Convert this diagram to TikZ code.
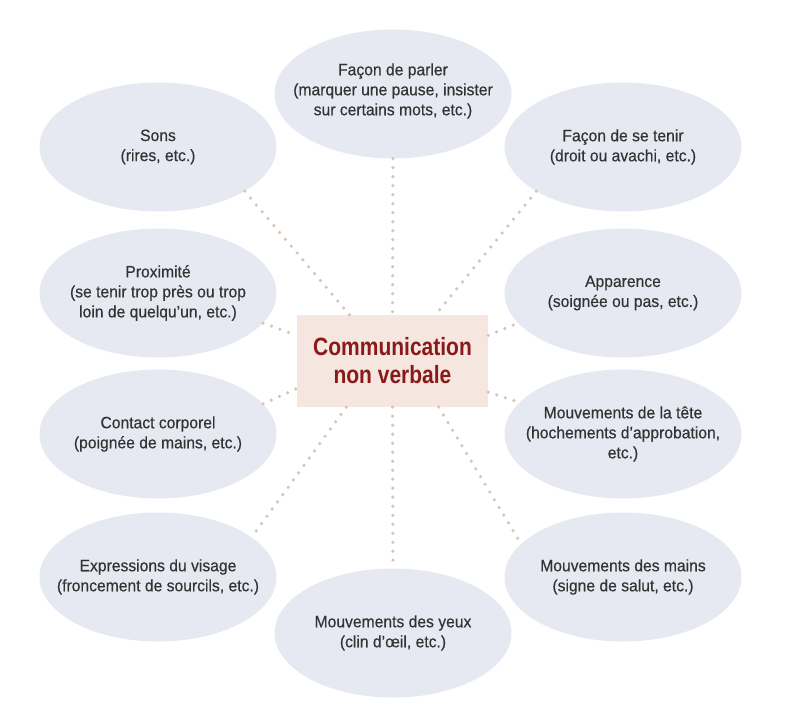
\documentclass[tikz,border=0pt]{standalone}
\usepackage{fontspec}
\setmainfont{Liberation Sans}
\newfontfamily\bubfont[FakeStretch=0.95, FakeBold=0.4]{Liberation Sans}
\newfontfamily\titfont[FakeStretch=0.84]{Liberation Sans}
\usetikzlibrary{shapes.geometric}
\definecolor{bubfill}{HTML}{E6E9F2}
\definecolor{boxfill}{HTML}{F5E6DF}
\definecolor{titred}{HTML}{8A1A1A}
\definecolor{bubtxt}{HTML}{333333}
\definecolor{dotcol}{HTML}{D8C4B4}
\tikzset{
  bubble/.style={ellipse, fill=bubfill, draw=none, minimum width=237pt, minimum height=129pt, inner sep=0pt},
  btext/.style={align=center, text=bubtxt, font=\bubfont\fontsize{16.5}{20}\selectfont, inner sep=0pt},
  centerbox/.style={rectangle, fill=boxfill, draw=none, minimum width=191pt, minimum height=92pt, inner sep=0pt},
  ttext/.style={align=center, text=titred, font=\titfont\bfseries\fontsize{25}{28}\selectfont, inner sep=0pt},
  dotline/.style={draw=dotcol, line width=3.5pt, line cap=round, dash pattern=on 0pt off 9pt}
}
\begin{document}
\begin{tikzpicture}[x=1pt, y=-1pt]
\useasboundingbox (0,0) rectangle (799,727);
\fill[white] (0,0) rectangle (799,727);

\node[centerbox] (box) at (392.5,361) {};

\node[bubble] (sons)    at (158,147) {};
\node[bubble] (parler)  at (393,94) {};
\node[bubble] (tenir)   at (623,147) {};
\node[bubble] (prox)    at (158,293) {};
\node[bubble] (app)     at (623,293) {};
\node[bubble] (contact) at (158,434) {};
\node[bubble] (tete)    at (623,434) {};
\node[bubble] (expr)    at (158,577) {};
\node[bubble] (mains)   at (623,577) {};
\node[bubble] (yeux)    at (393,633) {};

\draw[dotline] (sons.-27) -- (box.133);
\draw[dotline] (parler.south) -- (box.north);
\draw[dotline] (tenir.207) -- (box.47);
\draw[dotline] (prox.-16) -- (box.165);
\draw[dotline] (contact.16) -- (box.196);
\draw[dotline] (box.15) -- (app.196);
\draw[dotline] (box.-18) -- (tete.163);
\draw[dotline] (box.225) -- (expr.23);
\draw[dotline] (box.-45) -- (mains.162);
\draw[dotline] (box.south) -- (yeux.north);

\node[ttext] at (box) {Communication\\non verbale};

\node[btext] at (sons) {Sons\\(rires, etc.)};
\node[btext] at ([yshift=3pt]parler.center) {Façon de parler\\(marquer une pause, insister\\sur certains mots, etc.)};
\node[btext] at (tenir) {Façon de se tenir\\(droit ou avachi, etc.)};
\node[btext] at (prox) {Proximité\\(se tenir trop près ou trop\\loin de quelqu’un, etc.)};
\node[btext] at (app) {Apparence\\(soignée ou pas, etc.)};
\node[btext] at (contact) {Contact corporel\\(poignée de mains, etc.)};
\node[btext] at (tete) {Mouvements de la tête\\(hochements d’approbation,\\etc.)};
\node[btext] at (expr) {Expressions du visage\\(froncement de sourcils, etc.)};
\node[btext] at (mains) {Mouvements des mains\\(signe de salut, etc.)};
\node[btext] at (yeux) {Mouvements des yeux\\(clin d’œil, etc.)};
\end{tikzpicture}
\end{document}
